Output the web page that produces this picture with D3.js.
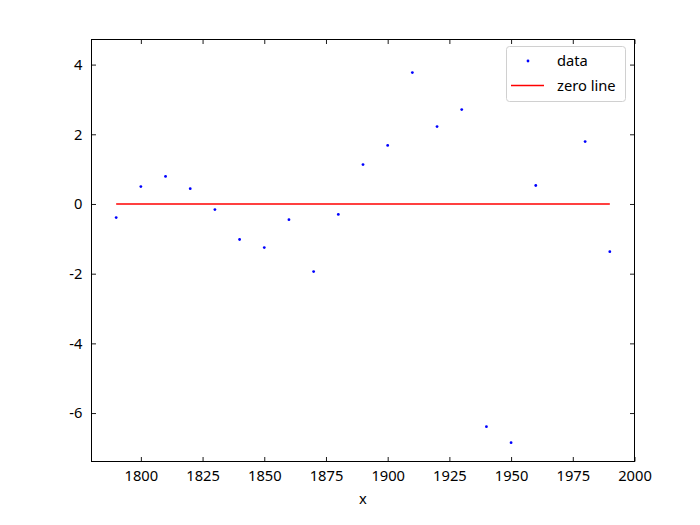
<!DOCTYPE html>
<html><head><meta charset="utf-8">
<script src="https://cdn.jsdelivr.net/npm/d3@7"></script>
<style>body{margin:0;background:#fff}svg text{font-family:"Noto Sans","Open Sans",sans-serif}</style>
</head><body><svg id="c" width="700" height="525"></svg>
<script>
const years = [1790,1800,1810,1820,1830,1840,1850,1860,1870,1880,1890,1900,1910,1920,1930,1940,1950,1960,1980,1990];
const values = [-0.39,0.50,0.79,0.44,-0.16,-1.02,-1.25,-0.45,-1.94,-0.30,1.13,1.68,3.77,2.22,2.71,-6.39,-6.85,0.53,1.79,-1.37];
const zeroLineX = [1790,1990];
const zeroLineY = [0,0];
const xTicks = [1800,1825,1850,1875,1900,1925,1950,1975,2000];
const yTicks = [-6,-4,-2,0,2,4];
const xDomain = [1780,2000];
const yDomain = [-7.39,4.72];

const FS = 14.7;
const svg = d3.select("#c");
const L=91.5,R=634.5,T=39.5,B=461.5;
const x = d3.scaleLinear().domain(xDomain).range([L,R]);
const y = d3.scaleLinear().domain(yDomain).range([B,T]);

const gx = svg.append("g").attr("transform",`translate(0,${B})`)
  .call(d3.axisBottom(x).tickValues(xTicks).tickSize(-4.5).tickPadding(9).tickFormat(d=>d));
const gy = svg.append("g").attr("transform",`translate(${L},0)`)
  .call(d3.axisLeft(y).tickValues(yTicks).tickSize(-4.5).tickPadding(9).tickFormat(d=>String(d)));
const gr = svg.append("g").attr("transform",`translate(${R},0)`)
  .call(d3.axisRight(y).tickValues(yTicks).tickSize(-4.5).tickFormat(""));
const gt = svg.append("g").attr("transform",`translate(0,${T})`)
  .call(d3.axisTop(x).tickValues(xTicks).tickSize(-4.5).tickFormat(""));
[gx,gy,gr,gt].forEach(g=>{g.select(".domain").remove();g.selectAll("line").attr("stroke","#000").attr("stroke-width",0.9);
  g.selectAll("text").attr("font-size",FS).attr("fill","#000").style("font-family","'Noto Sans','Open Sans',sans-serif");});
svg.append("rect").attr("x",L).attr("y",T).attr("width",R-L).attr("height",B-T).attr("fill","none").attr("stroke","#000").attr("stroke-width",1);

svg.append("text").attr("x",(L+R)/2).attr("y",504).attr("text-anchor","middle").attr("font-size",FS).text("x");

const line = d3.line().x(d=>x(d[0])).y(d=>y(d[1]));
svg.append("path").datum(zeroLineX.map((v,i)=>[v,zeroLineY[i]])).attr("d",line)
  .attr("stroke","#ff0000").attr("stroke-width",1.5).attr("fill","none");

svg.append("g").selectAll("circle").data(years.map((v,i)=>[v,values[i]])).join("circle")
  .attr("cx",d=>x(d[0])).attr("cy",d=>y(d[1])).attr("r",1.4).attr("fill","#0000ff");

// legend
const lg = svg.append("g");
lg.append("rect").attr("x",506.5).attr("y",46.5).attr("width",119).attr("height",55).attr("rx",3)
  .attr("fill","#fff").attr("fill-opacity",0.8).attr("stroke","#d0d0d0").attr("stroke-width",1);
lg.append("circle").attr("cx",528).attr("cy",61).attr("r",1.4).attr("fill","#0000ff");
lg.append("line").attr("x1",511).attr("x2",544).attr("y1",85.5).attr("y2",85.5).attr("stroke","#ff0000").attr("stroke-width",1.5);
lg.append("text").attr("x",557).attr("y",65.5).attr("font-size",FS).text("data");
lg.append("text").attr("x",557).attr("y",90.5).attr("font-size",FS).text("zero line");
</script></body></html>
